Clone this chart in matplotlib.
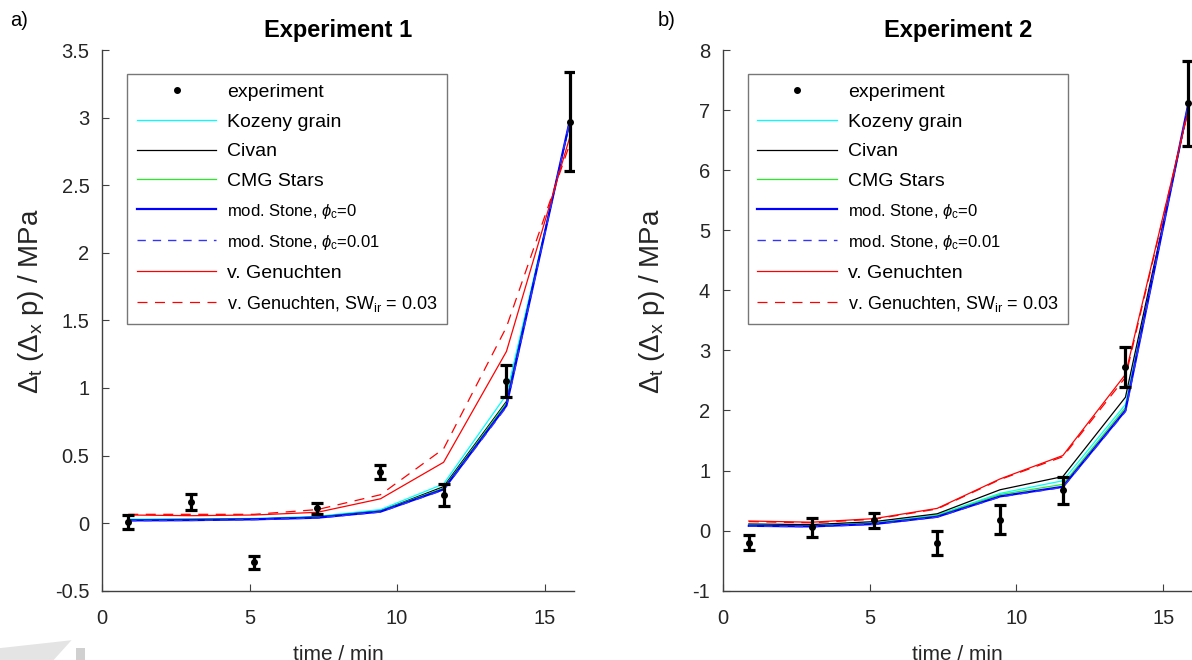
import numpy as np
import matplotlib.pyplot as plt
from matplotlib.ticker import FormatStrFormatter
from matplotlib.lines import Line2D
from matplotlib.patches import Polygon

plt.rcParams['font.family'] = ['Liberation Sans', 'DejaVu Sans']
plt.rcParams['mathtext.fontset'] = 'custom'
plt.rcParams['mathtext.rm'] = 'Liberation Sans'
plt.rcParams['mathtext.it'] = 'Liberation Sans:italic'
plt.rcParams['mathtext.bf'] = 'Liberation Sans:bold'

# time of the measurements / model outputs (min)
t = [0.89, 3.03, 5.16, 7.30, 9.44, 11.58, 13.71, 15.85]

# Experiment 1
exp1 = [0.01, 0.155, -0.29, 0.11, 0.38, 0.21, 1.05, 2.97]
err1 = [0.05, 0.06, 0.05, 0.04, 0.05, 0.08, 0.12, 0.365]
kozeny1 = [0.03, 0.03, 0.035, 0.05, 0.10, 0.29, 0.95, 2.95]
civan1 = [0.025, 0.028, 0.03, 0.045, 0.09, 0.27, 0.90, 2.96]
cmg1 = [0.025, 0.027, 0.03, 0.044, 0.09, 0.26, 0.89, 2.96]
stone1 = [0.02, 0.022, 0.028, 0.04, 0.085, 0.25, 0.87, 2.97]
stone1b = [0.018, 0.02, 0.026, 0.038, 0.082, 0.245, 0.86, 2.97]
genu1 = [0.06, 0.055, 0.06, 0.08, 0.18, 0.45, 1.27, 2.85]
genu1b = [0.065, 0.065, 0.065, 0.10, 0.21, 0.55, 1.45, 2.80]

# Experiment 2
exp2 = [-0.2, 0.055, 0.17, -0.2, 0.18, 0.67, 2.72, 7.11]
err2 = [0.12, 0.16, 0.13, 0.2, 0.24, 0.23, 0.33, 0.70]
kozeny2 = [0.10, 0.09, 0.13, 0.26, 0.62, 0.83, 2.10, 7.05]
civan2 = [0.11, 0.10, 0.15, 0.28, 0.68, 0.90, 2.22, 7.05]
cmg2 = [0.09, 0.08, 0.12, 0.25, 0.60, 0.77, 2.05, 7.07]
stone2 = [0.08, 0.07, 0.11, 0.23, 0.57, 0.73, 2.00, 7.10]
stone2b = [0.075, 0.065, 0.105, 0.225, 0.56, 0.72, 1.98, 7.10]
genu2 = [0.16, 0.14, 0.20, 0.37, 0.86, 1.25, 2.60, 7.00]
genu2b = [0.15, 0.13, 0.19, 0.36, 0.85, 1.23, 2.55, 7.00]

labels = ['experiment', 'Kozeny grain', 'Civan', 'CMG Stars',
          r'mod. Stone, $\phi_\mathregular{c}$=0',
          r'mod. Stone, $\phi_\mathregular{c}$=0.01',
          'v. Genuchten',
          r'v. Genuchten, SW$\mathregular{_{ir}}$ = 0.03']

axcol = '#404040'
fig = plt.figure(figsize=(11.92, 6.6), dpi=100)


def panel(rect, title, exp, err, models, ylim, yticks):
    ax = fig.add_axes(rect)
    styles = [('#00ffff', '-', 0.9), ('black', '-', 0.9), ('#22ee22', '-', 0.9),
              ('blue', '-', 1.6), ('#3333ff', (0, (6, 5)), 1.0),
              ('red', '-', 0.9), ('red', (0, (8, 6)), 0.9)]
    handles = []
    ax.errorbar(t, exp, yerr=err, fmt='o', color='black', ms=4,
                elinewidth=2.3, capsize=4, capthick=2.3, zorder=5)
    for y, (c, ls, lw) in zip(models, styles):
        ln, = ax.plot(t, y, color=c, ls=ls, lw=lw)
        handles.append(ln)
    ax.set_xlim(0, 16)
    ax.set_ylim(*ylim)
    ax.set_xticks([0, 5, 10, 15])
    ax.set_yticks(yticks)
    ax.yaxis.set_major_formatter(FormatStrFormatter('%g'))
    for s in ['top', 'right']:
        ax.spines[s].set_visible(False)
    for s in ['left', 'bottom']:
        ax.spines[s].set_color(axcol)
        ax.spines[s].set_linewidth(1.0)
    ax.tick_params(direction='in', length=5, color=axcol, labelsize=14.5,
                   labelcolor='#262626', pad=9)
    ax.tick_params(axis='x', pad=13)
    ax.text(0.5, 1 + 19 / 540.7, title, transform=ax.transAxes, ha='center',
            va='center', fontsize=17, fontweight='bold', color='black')
    ax.set_xlabel('time / min', fontsize=15, color='#262626')
    ax.xaxis.set_label_coords(0.5, -0.1)
    ax.set_ylabel(r'$\mathregular{\Delta_t}$ ($\mathregular{\Delta_x}$ p) / MPa',
                  fontsize=20, color='#262626', va='center')
    ax.yaxis.set_label_coords(-0.15, 0.536)
    dot = Line2D([], [], color='black', marker='o', ms=4, ls='none')
    leg = ax.legend([dot] + handles, labels, loc='upper left',
                    bbox_to_anchor=(0.053, 0.956), fontsize=14, frameon=True,
                    fancybox=False, edgecolor='#555555', handlelength=4.1,
                    handletextpad=0.55, labelspacing=0.62, borderpad=0.5,
                    borderaxespad=0)
    leg.get_frame().set_linewidth(1.0)
    txt = leg.get_texts()
    for i in (4, 5):
        txt[i].set_fontsize(12)
    txt[7].set_fontsize(13)
    return ax


ax1 = panel([102 / 1192, 69.3 / 660, 472 / 1192, 540.7 / 660], 'Experiment 1',
            exp1, err1, [kozeny1, civan1, cmg1, stone1, stone1b, genu1, genu1b],
            (-0.5, 3.5), np.arange(-0.5, 3.51, 0.5))
ax2 = panel([722.7 / 1192, 69.3 / 660, 470 / 1192, 540.7 / 660], 'Experiment 2',
            exp2, err2, [kozeny2, civan2, cmg2, stone2, stone2b, genu2, genu2b],
            (-1, 8), np.arange(-1, 8.1, 1))

fig.text(10 / 1192, 1 - 21 / 660, 'a)', fontsize=14.5, va='center')
fig.text(658 / 1192, 1 - 21 / 660, 'b)', fontsize=14.5, va='center')

# faint grey watermark fragment at the lower left edge of the scan
fig.patches.append(Polygon([[0, 0], [0, 0.018], [0.06, 0.03], [0.045, 0]],
                           closed=True, transform=fig.transFigure,
                           facecolor='#e4e4e4', edgecolor='none'))
fig.patches.append(Polygon([[0.064, 0], [0.064, 0.018], [0.071, 0.018], [0.071, 0]],
                           closed=True, transform=fig.transFigure,
                           facecolor='#d0d0d0', edgecolor='none'))

fig.savefig('out.png', dpi=100)
